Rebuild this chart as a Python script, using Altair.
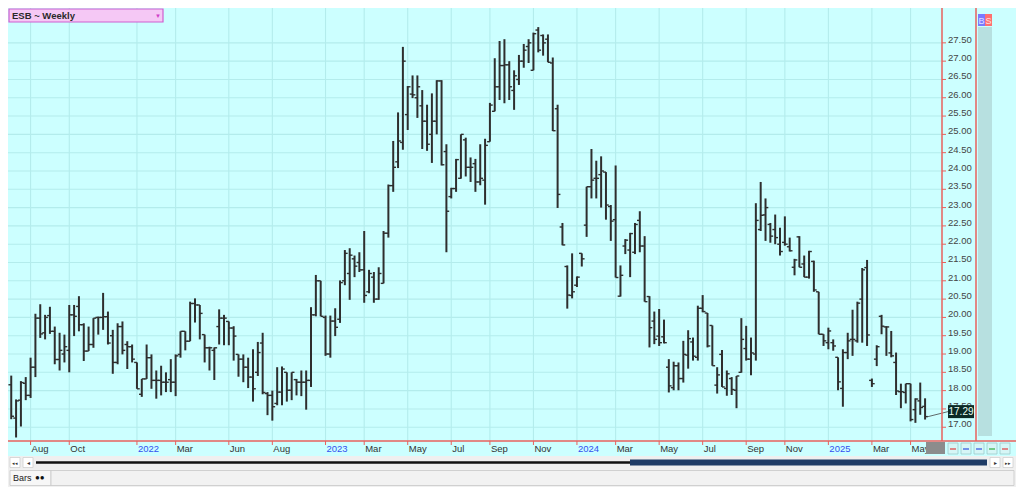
import altair as alt
import pandas as pd

# ---- weekly OHLC values (bar 1 .. bar 190) ----
opens = [18.16, 17.25, 17.74, 18.2, 17.87, 18.64, 19.98, 19.58, 20.05, 19.62,
         18.85, 19.0, 19.1, 20.07, 20.3, 19.8, 19.08, 19.26, 20.0, 20.0,
         20.02, 19.5, 18.77, 19.75, 19.26, 19.2, 18.77, 17.9, 18.32, 18.9,
         18.28, 18.28, 18.23, 18.3, 18.23, 18.99, 19.62, 19.35, 20.38, 20.34,
         19.53, 19.17, 19.1, 19.75, 19.98, 19.89, 19.71, 18.99, 18.86, 18.64,
         18.37, 18.5, 19.3, 17.92, 17.87, 17.65, 17.96, 18.5, 18.01, 18.3,
         18.23, 18.23, 18.28, 20.07, 21.0, 20.0, 19.0, 19.9, 19.95, 21.0,
         21.2, 21.6, 21.5, 21.3, 20.7, 21.1, 20.5, 20.93, 22.3, 23.6,
         24.25, 24.78, 25.54, 26.1, 26.0, 25.78, 25.36, 25.0, 25.36, 26.46,
         24.53, 23.3, 23.52, 23.8, 24.85, 24.1, 24.2, 23.7, 23.75, 24.8,
         25.63, 26.3, 26.88, 26.9, 26.2, 26.5, 27.0, 27.4, 26.75, 27.85,
         27.7, 27.6, 26.95, 25.7, 22.47, 21.39, 20.6, 20.88, 21.75, 22.52,
         23.57, 23.8, 23.9, 23.97, 23.03, 22.67, 20.58, 21.95, 21.84, 21.78,
         22.65, 21.95, 20.57, 19.9, 19.49, 19.47, 18.64, 18.08, 18.68, 18.33,
         18.97, 19.33, 18.91, 20.25, 20.12, 19.78, 18.15, 18.99, 18.06, 18.33,
         18.01, 18.5, 19.15, 18.86, 19.0, 22.4, 22.8, 22.54, 22.4, 22.0,
         22.05, 21.93, 21.37, 22.2, 21.46, 21.1, 21.53, 20.7, 19.54, 19.31,
         19.31, 18.91, 18.06, 19.04, 19.4, 19.36, 20.5, 21.36, 18.28, 18.86,
         20.03, 19.74, 19.03, 18.77, 17.97, 17.95, 18.19, 17.48, 17.72, 17.57]

highs = [18.41, 17.76, 18.26, 18.37, 18.9, 20.1, 20.36, 20.07, 20.29, 19.75,
         19.58, 19.53, 20.34, 20.34, 20.58, 19.84, 19.75, 19.98, 20.02, 20.67,
         20.16, 19.66, 19.84, 19.89, 19.35, 19.26, 18.77, 18.32, 19.26, 18.99,
         18.55, 18.68, 18.5, 18.86, 18.99, 19.62, 19.62, 20.43, 20.52, 20.34,
         19.53, 19.2, 19.18, 20.22, 20.07, 19.89, 19.76, 18.99, 18.99, 18.9,
         19.13, 19.33, 19.58, 17.96, 18.0, 18.64, 18.66, 18.5, 18.5, 18.32,
         18.55, 18.55, 20.28, 21.16, 21.0, 20.05, 20.05, 20.25, 21.01, 21.84,
         21.89, 21.69, 21.78, 22.36, 21.3, 21.24, 21.37, 22.36, 23.63, 24.82,
         25.6, 27.39, 26.32, 26.61, 26.61, 26.21, 25.81, 26.12, 26.48, 26.48,
         24.73, 23.54, 24.33, 25.0, 24.91, 24.37, 24.33, 24.73, 24.88, 25.86,
         27.08, 27.55, 27.6, 27.0, 26.75, 27.17, 27.47, 27.6, 27.78, 27.93,
         27.73, 27.73, 27.1, 25.81, 22.58, 21.42, 21.75, 21.12, 21.75, 23.57,
         24.6, 24.28, 24.4, 23.97, 23.07, 24.15, 21.42, 22.14, 22.31, 22.58,
         22.9, 22.22, 20.58, 20.16, 20.23, 19.94, 18.86, 18.79, 18.77, 19.36,
         19.65, 19.45, 20.32, 20.61, 20.12, 19.78, 18.64, 19.11, 18.55, 18.37,
         18.4, 19.98, 19.77, 19.45, 23.12, 23.7, 23.25, 22.58, 22.81, 22.45,
         22.76, 22.18, 21.6, 22.22, 21.69, 21.82, 21.55, 20.7, 19.54, 19.72,
         19.4, 18.91, 19.13, 19.58, 20.21, 20.43, 21.35, 21.57, 18.33, 19.24,
         20.07, 19.76, 19.63, 19.04, 18.19, 18.19, 18.19, 17.79, 18.22, 17.79]

lows = [17.22, 16.72, 17.02, 17.74, 17.8, 18.37, 19.44, 19.4, 19.55, 18.72,
        18.55, 18.77, 18.5, 19.49, 19.62, 18.81, 19.08, 19.17, 19.53, 19.66,
        19.26, 18.46, 18.72, 18.99, 18.59, 18.77, 18.05, 17.83, 18.32, 18.05,
        17.78, 17.87, 17.96, 17.96, 17.85, 18.9, 19.1, 19.35, 19.86, 19.4,
        18.77, 18.55, 18.29, 19.26, 19.24, 19.24, 18.82, 18.38, 18.23, 18.07,
        17.7, 18.4, 17.9, 17.33, 17.18, 17.6, 17.6, 17.7, 17.74, 17.87,
        17.85, 17.48, 18.1, 20.03, 20.03, 18.95, 18.9, 19.49, 19.85, 20.88,
        20.48, 21.1, 21.24, 20.4, 20.66, 20.4, 20.48, 20.93, 22.18, 23.43,
        24.08, 24.58, 25.12, 25.99, 25.45, 24.6, 24.55, 24.22, 25.0, 24.15,
        21.78, 23.25, 23.43, 23.79, 23.85, 23.7, 23.43, 23.61, 23.08, 24.8,
        25.63, 25.94, 25.85, 25.94, 25.67, 26.35, 26.82, 26.95, 26.75, 27.24,
        27.15, 26.97, 25.09, 22.99, 21.97, 20.24, 20.52, 20.83, 21.39, 22.2,
        23.25, 23.25, 23.0, 22.67, 22.09, 21.09, 20.57, 21.73, 21.1, 21.73,
        21.78, 20.43, 19.18, 19.27, 19.22, 19.29, 17.95, 18.01, 18.01, 18.22,
        18.6, 18.82, 18.82, 20.14, 19.18, 18.68, 17.92, 18.1, 17.86, 17.88,
        17.52, 18.49, 18.82, 18.42, 18.82, 22.36, 22.09, 22.04, 22.0, 21.69,
        21.96, 21.8, 21.15, 21.37, 21.1, 21.06, 20.7, 19.54, 19.22, 19.13,
        19.09, 18.01, 17.56, 18.86, 18.95, 19.31, 19.31, 19.22, 18.1, 18.67,
        19.54, 18.95, 18.91, 17.88, 17.52, 17.65, 17.16, 17.12, 17.34, 17.21]

closes = [17.3, 17.72, 18.22, 17.87, 18.64, 19.98, 19.55, 20.0, 19.62, 18.85,
          19.1, 19.2, 20.07, 20.03, 19.8, 19.08, 19.26, 19.98, 20.0, 20.02,
          19.3, 18.77, 19.75, 19.1, 19.2, 18.86, 18.05, 18.32, 18.9, 18.28,
          18.28, 18.23, 18.23, 18.23, 18.95, 19.62, 19.35, 20.38, 20.34, 20.11,
          19.17, 19.17, 19.17, 19.98, 19.98, 19.71, 19.49, 18.86, 18.64, 18.37,
          18.05, 19.04, 17.95, 17.87, 17.56, 17.96, 18.59, 18.01, 18.5, 18.23,
          18.23, 18.28, 20.07, 21.0, 20.03, 19.0, 19.9, 19.73, 20.95, 21.75,
          21.7, 21.4, 21.3, 20.6, 21.2, 20.5, 21.2, 22.3, 23.6, 24.1,
          24.82, 27.0, 26.3, 26.08, 26.3, 25.36, 24.73, 25.36, 26.46, 24.17,
          22.9, 23.52, 24.31, 25.0, 24.1, 24.1, 23.7, 23.8, 24.7, 25.8,
          26.3, 26.88, 26.9, 26.3, 26.6, 27.0, 27.3, 27.5, 27.75, 27.3,
          27.5, 26.97, 25.1, 23.36, 21.98, 20.61, 20.7, 21.1, 21.6, 23.57,
          23.75, 23.8, 24.0, 23.07, 22.63, 21.09, 21.15, 22.11, 22.29, 22.54,
          21.95, 20.43, 19.72, 19.4, 19.31, 19.31, 18.13, 18.68, 18.33, 18.99,
          19.42, 18.94, 20.25, 20.16, 19.22, 18.68, 18.43, 18.1, 18.46, 18.03,
          18.4, 19.4, 18.86, 19.03, 22.65, 22.79, 23.0, 22.22, 22.18, 21.8,
          22.0, 21.82, 21.57, 21.37, 21.1, 21.8, 20.75, 19.54, 19.36, 19.63,
          19.22, 18.24, 19.04, 19.36, 19.4, 20.39, 21.3, 19.52, 18.19, 19.2,
          19.76, 19.74, 18.95, 17.99, 17.97, 18.19, 17.21, 17.77, 17.54, 17.29]

# x-axis ticks: bar number -> label
tick_weeks = [5, 13, 27, 35, 46, 55, 66, 74, 83, 92, 100, 109, 118, 126, 135, 144,
              153, 161, 170, 179, 187]
tick_labels = ["Aug", "Oct", "2022", "Mar", "Jun", "Aug", "2023", "Mar", "May", "Jul",
               "Sep", "Nov", "2024", "Mar", "May", "Jul", "Sep", "Nov", "2025", "Mar", "May"]
year_labels = ["2022", "2023", "2024", "2025"]
price_ticks = [17.0, 17.5, 18.0, 18.5, 19.0, 19.5, 20.0, 20.5, 21.0, 21.5, 22.0,
               22.5, 23.0, 23.5, 24.0, 24.5, 25.0, 25.5, 26.0, 26.5, 27.0, 27.5]
title_text = "ESB ~ Weekly"
last_text = "17.29"

df = pd.DataFrame({"week": list(range(1, len(opens) + 1)), "open": opens,
                   "high": highs, "low": lows, "close": closes})
xt = pd.DataFrame({"week": tick_weeks, "label": tick_labels,
                   "year": [t in year_labels for t in tick_labels]})
yt = pd.DataFrame({"price": price_ticks,
                   "label": ["%.2f" % p for p in price_ticks]})

W, H = 934, 433
BAR = "#2e2e2e"
RED = "#e8605c"
GRID = "#b3ecec"
FONT = "Liberation Sans"

xs = alt.Scale(domain=[0.33, 193.5], nice=False, zero=False)
ys = alt.Scale(domain=[16.624, 28.452], nice=False, zero=False)


def X(f):
    return alt.X(f, scale=xs, axis=None)


def Y(f):
    return alt.Y(f, scale=ys, axis=None)


# ---- grid, ticks and labels drawn through the scales ----
xgrid = alt.Chart(xt).mark_rule(color=GRID, strokeWidth=1.1).encode(
    x=X("week:Q"), y=alt.value(0), y2=alt.value(H))
ygrid = alt.Chart(yt).mark_rule(color=GRID, strokeWidth=1.1).encode(
    y=Y("price:Q"), x=alt.value(0), x2=alt.value(W))
xtick = alt.Chart(xt).mark_rule(color=RED, strokeWidth=1).encode(
    x=X("week:Q"), y=alt.value(H), y2=alt.value(H + 4))
ytick = alt.Chart(yt).mark_rule(color=RED, strokeWidth=1).encode(
    y=Y("price:Q"), x=alt.value(W), x2=alt.value(W + 4))
xlab_m = alt.Chart(xt).transform_filter("!datum.year").mark_text(
    font=FONT, fontSize=9.5, color="#333333", align="left", baseline="top", dx=1).encode(
    x=X("week:Q"), y=alt.value(H + 3), text="label:N")
xlab_y = alt.Chart(xt).transform_filter("datum.year").mark_text(
    font=FONT, fontSize=9.5, color="#3350f0", align="left", baseline="top", dx=1).encode(
    x=X("week:Q"), y=alt.value(H + 3), text="label:N")
ylab = alt.Chart(yt).mark_text(
    font=FONT, fontSize=9.5, color="#444444", align="left", baseline="middle", dy=-3).encode(
    y=Y("price:Q"), x=alt.value(W + 6), text="label:N")

# ---- OHLC bars ----
base = alt.Chart(df)
hl = base.mark_rule(color=BAR, strokeWidth=2.0).encode(
    x=X("week:Q"), y=Y("low:Q"), y2="high:Q")
op = base.mark_rule(color=BAR, strokeWidth=1.4, xOffset=-2.8, x2Offset=0).encode(
    x=X("week:Q"), x2="week:Q", y=Y("open:Q"))
cl = base.mark_rule(color=BAR, strokeWidth=1.4, xOffset=0, x2Offset=2.8).encode(
    x=X("week:Q"), x2="week:Q", y=Y("close:Q"))

last = base.transform_filter("datum.week == %d" % len(closes))
lead = last.mark_rule(color="#444444", strokeWidth=0.8, xOffset=3, y2Offset=-5).encode(
    x=X("week:Q"), x2=alt.value(940), y=Y("close:Q"), y2="close:Q")
tagbox = last.mark_rect(color="#0c2a26", height=13, yOffset=-5).encode(
    x=alt.value(940), x2=alt.value(966), y=Y("close:Q"))
tagtxt = last.mark_text(text=last_text, color="#e8fff4", font=FONT, fontSize=10,
                        align="center", baseline="middle", yOffset=-5).encode(
    x=alt.value(953), y=Y("close:Q"))

one = pd.DataFrame({"k": [0]})


def box(x1, x2, y1, y2, fill, stroke=None, sw=1.0):
    kw = {"fill": fill}
    if stroke:
        kw.update(stroke=stroke, strokeWidth=sw)
    return alt.Chart(one).mark_rect(**kw).encode(
        x=alt.value(x1), x2=alt.value(x2), y=alt.value(y1), y2=alt.value(y2))


def txt(x, y, s, **kw):
    return alt.Chart(one).mark_text(text=s, font=FONT, **kw).encode(
        x=alt.value(x), y=alt.value(y))


def vline(x, y1, y2, color, sw=1.0):
    return alt.Chart(one).mark_rule(color=color, strokeWidth=sw).encode(
        x=alt.value(x), y=alt.value(y1), y2=alt.value(y2))


def hline(x1, x2, y, color, sw=1.0):
    return alt.Chart(one).mark_rule(color=color, strokeWidth=sw).encode(
        x=alt.value(x1), x2=alt.value(x2), y=alt.value(y))


deco = [
    # axis lines
    vline(W, 0, H, RED, 1.5),
    hline(0, 1008, H, RED, 1.5),
    vline(968, 0, H, RED, 1.5),
    # title tab
    box(1, 155, 1, 14, "#f5c8f5", "#cf5fcf", 1.2),
    txt(4, 8, title_text, align="left", baseline="middle", fontSize=9.5,
        fontWeight="bold", color="#2a2a2a"),
    txt(150, 8, "\u25BC", align="center", baseline="middle", fontSize=6, color="#d040c8"),
    # right panel
    box(970, 984, 19, 428, "#b7e0e0"),
    box(970, 977, 6, 18, "#7a7aff"),
    box(977, 984, 6, 18, "#ff7070"),
    txt(973.5, 12.5, "B", align="center", baseline="middle", fontSize=9, color="#e0e0ff"),
    txt(980.5, 12.5, "S", align="center", baseline="middle", fontSize=9, color="#ffe0e0"),
    # bottom-right controls
    box(918, 937, 434, 446, "#8c8c8c"),
    box(940, 950, 435, 446, "#d6f6f6", "#9ccccc", 0.8),
    box(953, 963, 435, 446, "#d6f6f6", "#9ccccc", 0.8),
    box(966, 976, 435, 446, "#d6f6f6", "#9ccccc", 0.8),
    box(979, 989, 435, 446, "#d6f6f6", "#9ccccc", 0.8),
    box(992, 1002, 435, 446, "#d6f6f6", "#9ccccc", 0.8),
    hline(942, 948, 441, "#e04040", 1.2),
    hline(955, 961, 441, "#3050e0", 1.2),
    hline(968, 974, 441, "#3050e0", 1.2),
    hline(981, 987, 441, "#30b040", 1.2),
    hline(994, 1000, 441, "#e04040", 1.2),
    # scroll row
    box(0, 1008, 448, 461, "#efefef"),
    box(2, 12, 449.5, 459.5, "#ffffff", "#cfcfcf", 0.8),
    box(15, 25, 449.5, 459.5, "#ffffff", "#cfcfcf", 0.8),
    txt(7, 455, "\u25C2\u25C2", align="center", baseline="middle", fontSize=5, color="#333"),
    txt(20, 455, "\u25C2", align="center", baseline="middle", fontSize=6, color="#333"),
    hline(28, 622, 454.5, "#111111", 2.5),
    box(622, 979, 451.5, 457.5, "#1f3c66"),
    box(982, 992, 449.5, 459.5, "#ffffff", "#cfcfcf", 0.8),
    box(995, 1005, 449.5, 459.5, "#ffffff", "#cfcfcf", 0.8),
    txt(987, 455, "\u25B8", align="center", baseline="middle", fontSize=6, color="#333"),
    txt(1000, 455, "\u25B8\u25B8", align="center", baseline="middle", fontSize=5, color="#333"),
    # bars row
    box(0, 1008, 461, 479, "#f0f0f0"),
    box(2, 43, 462.5, 477.5, "#f7f7f7", "#c8c8c8", 0.8),
    box(43, 1006, 462.5, 477.5, "#f2f2f2", "#c8c8c8", 0.8),
    txt(5, 470, "Bars", align="left", baseline="middle", fontSize=9, color="#222"),
    txt(27, 470, "\u25CF\u25CF", align="left", baseline="middle", fontSize=8, color="#111"),
]

chart = alt.layer(xgrid, ygrid, hl, op, cl, xtick, ytick, xlab_m, xlab_y, ylab,
                  lead, tagbox, tagtxt, *deco).properties(
    width=W, height=H, background="#ccffff",
    padding={"left": 0, "top": 0, "right": 74, "bottom": 46},
    autosize=alt.AutoSizeParams(type="none"),
).configure_view(stroke=None)

chart.save("out.html", embed_options={"renderer": "svg", "actions": False})
